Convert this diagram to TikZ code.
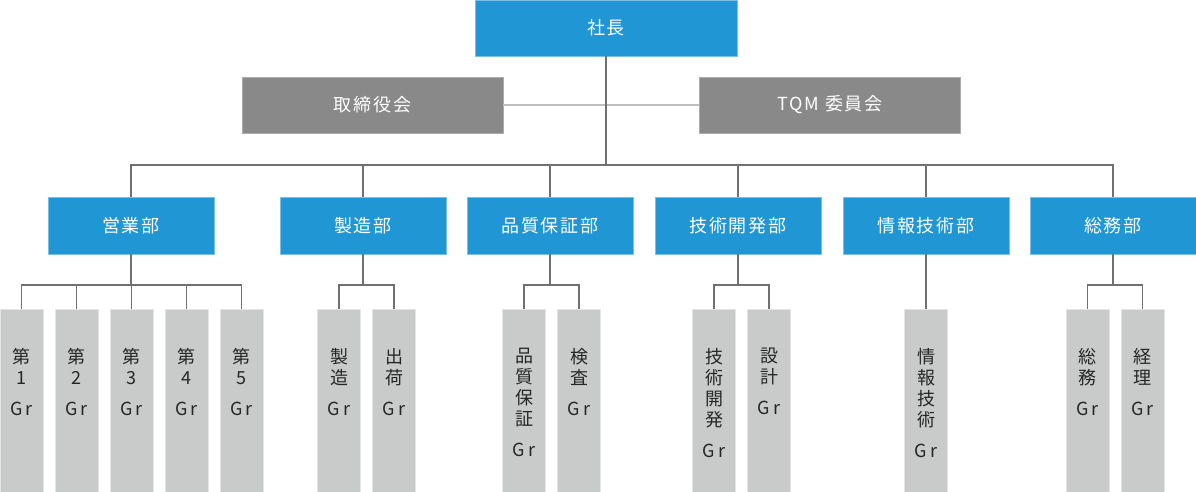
\documentclass[tikz,border=0pt]{standalone}
\usepackage{fontspec}
\setmainfont{Noto Sans CJK JP}
\newfontfamily\headfont[LetterSpace=10]{Noto Sans CJK JP}
\usetikzlibrary{positioning}
\definecolor{deptblue}{RGB}{33,150,212}
\definecolor{boardgray}{RGB}{137,137,137}
\definecolor{grgray}{RGB}{201,202,202}
\definecolor{wiregray}{RGB}{112,112,112}
\definecolor{linkgray}{RGB}{190,190,190}
\newcommand\grtext[1]{\parbox[c][183pt][t]{43pt}{\centering\baselineskip=21pt
  \vspace*{39pt}#1\\[10pt]G\kern3pt r\par}}

\begin{document}
\begin{tikzpicture}[x=1pt,y=1pt,on grid,node distance=55pt,
    dept/.style={rectangle,fill=deptblue,draw=deptblue!60!white,line width=0.6pt,
      minimum width=166pt,minimum height=57pt,inner sep=0pt,text=white,
      font=\headfont\fontsize{18}{21}\selectfont},
    board/.style={dept,fill=boardgray,draw=boardgray!70!white,
      minimum width=261pt,minimum height=56pt},
    grbar/.style={rectangle,fill=grgray,draw=grgray!50!white,line width=0.6pt,
      minimum width=43pt,minimum height=183pt,inner sep=0pt,text=black!85,
      font=\fontsize{18}{21}\selectfont},
    wire/.style={draw=wiregray,line width=1.2pt},
    link/.style={draw=linkgray,line width=2pt}]
  \useasboundingbox (0,0) rectangle (1196,-492);
  % top
  \node [dept,minimum width=262pt,minimum height=56pt] (shacho) at (606,-28) {社長};
  \node [board] [below left=77pt and 233.5pt of shacho] (torishimari) {取締役会};
  \node [board] [below right=77pt and 224pt of shacho] (tqm) {TQM 委員会};
  \coordinate [below=137pt of shacho] (bus);
  % departments
  \node [dept] [below left=197.5pt and 475pt of shacho] (eigyo) {営業部};
  \node [dept] [right=232pt of eigyo] (seizo) {製造部};
  \node [dept] [right=187pt of seizo] (hinshitsu) {品質保証部};
  \node [dept] [right=188pt of hinshitsu] (gijutsu) {技術開発部};
  \node [dept] [right=188pt of gijutsu] (joho) {情報技術部};
  \node [dept] [right=187pt of joho] (somu) {総務部};
  % groups
  \node [grbar] [below left=175pt and 109.5pt of eigyo] (e1) {\grtext{第\\1}};
  \node [grbar] [right=of e1] (e2) {\grtext{第\\2}};
  \node [grbar] [right=of e2] (e3) {\grtext{第\\3}};
  \node [grbar] [right=of e3] (e4) {\grtext{第\\4}};
  \node [grbar] [right=of e4] (e5) {\grtext{第\\5}};
  \node [grbar] [below left=175pt and 24pt of seizo] (s1) {\grtext{製\\造}};
  \node [grbar] [right=of s1] (s2) {\grtext{出\\荷}};
  \node [grbar] [below left=175pt and 26pt of hinshitsu] (q1) {\grtext{品\\質\\保\\証}};
  \node [grbar] [right=of q1] (q2) {\grtext{検\\査}};
  \node [grbar] [below left=175pt and 24pt of gijutsu] (g1) {\grtext{技\\術\\開\\発}};
  \node [grbar] [right=of g1] (g2) {\grtext{設\\計}};
  \node [grbar] [below=175pt of joho] (j1) {\grtext{情\\報\\技\\術}};
  \node [grbar] [below left=175pt and 25.5pt of somu] (m1) {\grtext{総\\務}};
  \node [grbar] [right=of m1] (m2) {\grtext{経\\理}};
  \foreach \d in {eigyo,seizo,hinshitsu,gijutsu,somu}
    \coordinate [below=59.5pt of \d] (\d-br);
  % connectors
  \draw [link] (torishimari) -- (tqm);
  \draw [wire] (shacho.south) -- (bus);
  \draw [wire] (eigyo.north) |- (bus) -| (somu.north);
  \foreach \d in {seizo,hinshitsu,gijutsu,joho}
    \draw [wire] (\d.north) -- (\d.north |- bus);
  \foreach \d in {eigyo,seizo,hinshitsu,gijutsu,somu}
    \draw [wire] (\d.south) -- (\d-br);
  \draw [wire] (e1.north) |- (eigyo-br) -| (e5.north);
  \foreach \g in {e2,e3,e4}
    \draw [wire] (\g.north) -- (\g.north |- eigyo-br);
  \draw [wire] (s1.north) |- (seizo-br) -| (s2.north);
  \draw [wire] (q1.north) |- (hinshitsu-br) -| (q2.north);
  \draw [wire] (g1.north) |- (gijutsu-br) -| (g2.north);
  \draw [wire] (m1.north) |- (somu-br) -| (m2.north);
  \draw [wire] (joho.south) -- (j1.north);
\end{tikzpicture}
\end{document}
